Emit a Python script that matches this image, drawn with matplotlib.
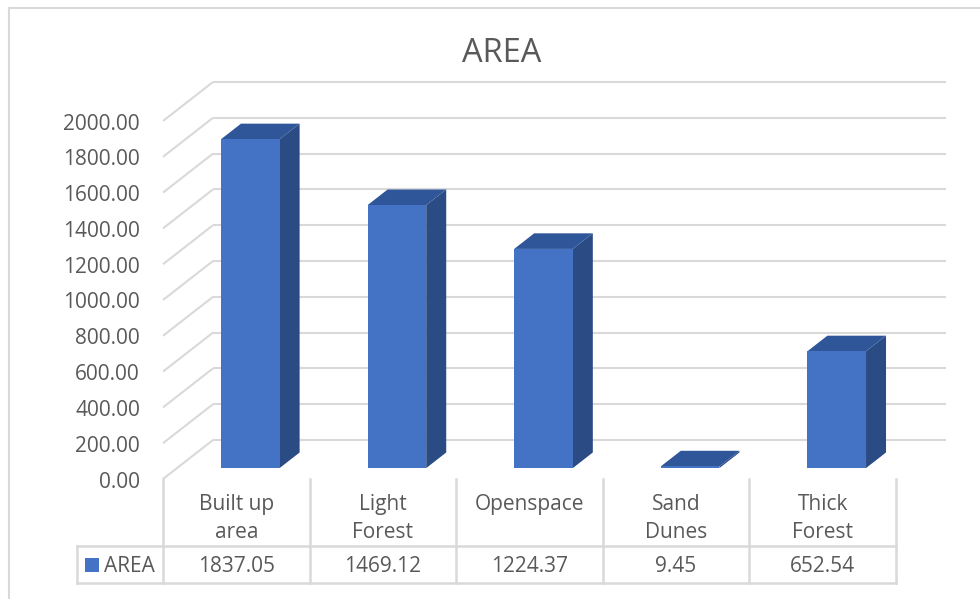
import matplotlib
matplotlib.use("Agg")
import matplotlib.pyplot as plt
from matplotlib.patches import Polygon, Rectangle
from matplotlib.lines import Line2D
import numpy as np

plt.rcParams['font.family'] = ['Open Sans', 'DejaVu Sans']

# ---- data ----
title = "AREA"
series_name = "AREA"
categories = ["Built up\narea", "Light\nForest", "Openspace", "Sand\nDunes", "Thick\nForest"]
values = [1837.05, 1469.12, 1224.37, 9.45, 652.54]
value_labels = ["1837.05", "1469.12", "1224.37", "9.45", "652.54"]
y_ticks = np.arange(0, 2001, 200)

# ---- styling ----
TEXT = "#595959"
GRID = "#D9D9D9"
FRONT = "#4472C4"
SIDE = "#2A4B83"
TOP = "#30569A"

W, H = 980, 599
fig = plt.figure(figsize=(W / 100, H / 100), dpi=100)
ax = fig.add_axes([0, 0, 1, 1])
ax.set_axis_off()

# front plane scale: categories on x, values on y
n = len(categories)
px_per_cat = 146.6
units_per_px = 2000 / 358.0
left_px, base_px = 163, 479  # front-left corner of floor (pixels from top)
x0 = -0.5 - left_px / px_per_cat
ax.set_xlim(x0, x0 + W / px_per_cat)
ax.set_ylim(-(H - base_px) * units_per_px, base_px * units_per_px)

# depth vector (front -> back) in data units
DX = 50 / px_per_cat
DY = 39 * units_per_px
t_front, t_back = 0.28, 0.68
bar_w = 0.40

x_left, x_right = -0.5, n - 0.5
text_nudge = 3 * units_per_px  # small downward nudge so digits sit centred

# gridlines: left side wall diagonals + back wall horizontals
for v in y_ticks:
    ax.plot([x_left, x_left + DX], [v, v + DY], color=GRID, lw=1.5, zorder=1,
            solid_capstyle='butt')
    ax.plot([x_left + DX, x_right + DX], [v + DY, v + DY], color=GRID, lw=1.5,
            zorder=1, solid_capstyle='butt')
    ax.text(x_left - 0.157, v - text_nudge, f"{v:.2f}", ha='right', va='center',
            fontsize=15, color=TEXT)

# 3-D columns
for i, v in enumerate(values):
    xa = i - bar_w / 2 + t_front * DX
    xb = xa + bar_w
    yb = t_front * DY
    yt = yb + v
    d = (t_back - t_front)
    ddx, ddy = d * DX, d * DY
    side = Polygon([(xb, yb), (xb + ddx, yb + ddy), (xb + ddx, yt + ddy), (xb, yt)],
                   closed=True, facecolor=SIDE, edgecolor='none', zorder=3)
    top = Polygon([(xa, yt), (xb, yt), (xb + ddx, yt + ddy), (xa + ddx, yt + ddy)],
                  closed=True, facecolor=TOP, edgecolor='none', zorder=3)
    front = Rectangle((xa, yb), bar_w, v, facecolor=FRONT, edgecolor='none', zorder=4)
    ax.add_patch(side)
    ax.add_patch(top)
    ax.add_patch(front)

# data table below the plot
hdr_bot = -(546 - base_px) * units_per_px
row_bot = -(583 - base_px) * units_per_px
leg_left = -0.5 - (163 - 77) / px_per_cat
lw_tab = 1.8
for k in range(n + 1):
    xk = -0.5 + k
    ax.plot([xk, xk], [0, row_bot], color=GRID, lw=lw_tab, zorder=1)
ax.plot([leg_left, leg_left], [hdr_bot, row_bot], color=GRID, lw=lw_tab, zorder=1)
for yy in (hdr_bot, row_bot):
    ax.plot([leg_left, x_right], [yy, yy], color=GRID, lw=lw_tab, zorder=1)

hdr_top = -(494 - base_px) * units_per_px
row_mid = (hdr_bot + row_bot) / 2
for i, (c, lab) in enumerate(zip(categories, value_labels)):
    ax.text(i, hdr_top, c, ha='center', va='top', fontsize=15, color=TEXT,
            linespacing=1.45)
    ax.text(i, row_mid - text_nudge / 2, lab, ha='center', va='center',
            fontsize=15, color=TEXT)

# legend key inside the table
sq = 14 * units_per_px
sq_x = -0.5 - (163 - 85) / px_per_cat
ax.add_patch(Rectangle((sq_x, row_mid - sq / 2), 14 / px_per_cat, sq,
                       facecolor=FRONT, edgecolor='none', zorder=3))
ax.text(-0.5 - (163 - 104) / px_per_cat, row_mid - text_nudge / 2, series_name,
        ha='left', va='center', fontsize=15, color=TEXT)

# title
fig.text(502 / W, 1 - 53 / H, title, ha='center', va='center', fontsize=23.5,
         color=TEXT)

# chart area frame (top and left edges visible)
fig.add_artist(Line2D([9 / W, 1], [1 - 8 / H, 1 - 8 / H], color=GRID, lw=1.5,
                      transform=fig.transFigure))
fig.add_artist(Line2D([9 / W, 9 / W], [0, 1 - 8 / H], color=GRID, lw=1.5,
                      transform=fig.transFigure))

fig.savefig("out.png", dpi=100)
